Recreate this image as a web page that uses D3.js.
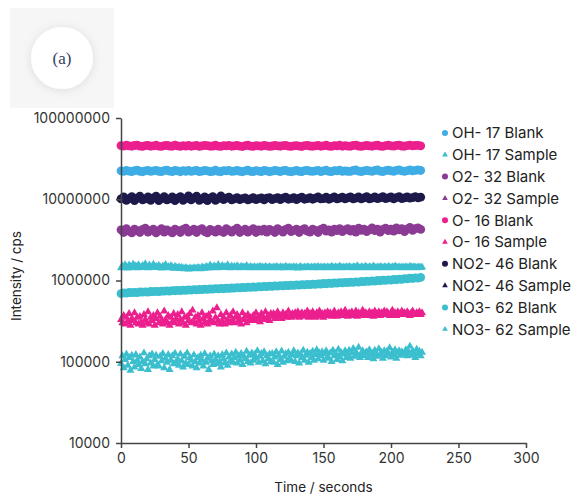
<!DOCTYPE html>
<html>
<head>
<meta charset="utf-8">
<script src="https://cdn.jsdelivr.net/npm/d3@7"></script>
<style>
    body { margin: 0; background: #fff; }
    svg { display: block; }
    .axis text { font-family: Inter, "Open Sans", sans-serif; font-size: 14px; fill: #333; }
    .axis path, .axis line { stroke: #444; stroke-width: 1.5px; }
    .label { font-family: Inter, "Open Sans", sans-serif; font-size: 13.5px; fill: #222; }
    .legend text { font-family: Inter, "Open Sans", sans-serif; font-size: 15px; fill: #222; }
</style>
</head>
<body>
<div id="chart"></div>
<script>
// Blanks sampled every 2 s, samples every 1 s; values in thousands of cps
var blankStep = 2;
var sampleStep = 1;
var unit = 1000;

var yTicks = [10000, 100000, 1000000, 10000000, 100000000];
var xTicks = [0, 50, 100, 150, 200, 250, 300];

var ohBlank = [
    22400,22000,22700,22200,21900,22500,22800,22100,21800,22400,22600,22000,22300,22700,
    22100,21900,22500,22800,22200,21900,22600,22300,21800,22500,22100,22700,22000,22400,
    22600,21900,22200,22700,22400,21900,22100,22800,22000,21800,22500,22300,22700,22000,
    22200,22600,22100,21800,22400,22800,22000,21900,22500,22200,21900,22700,22400,21800,
    22200,22600,22300,21900,22500,22700,22000,21800,22200,22600,22100,21900,22500,22700,
    22200,22000,22400,22700,21900,22300,22800,22000,21900,22500,22300,22800,22000,22400,
    22100,22000,22600,22900,22200,21900,22400,22700,22300,22000,22600,22900,22200,21900,
    22500,22800,22400,22100,22600,22900,22300,22000,22500,22900,22400,22700,22900,22600
];
var ohSample = [
    95,118,84,106,124,90,112,78,120,100,86,122,104,92,
    114,82,100,128,94,108,80,118,96,124,88,106,120,92,
    88,116,102,126,84,110,98,122,80,104,118,94,127,98,
    108,90,124,102,86,116,96,128,92,112,104,88,121,100,
    84,112,96,120,104,88,126,98,110,80,118,102,92,124,
    106,94,118,100,86,122,108,96,128,90,114,102,124,98,
    112,130,96,118,104,126,92,116,108,134,100,120,96,128,
    104,122,110,136,98,116,126,102,132,94,118,108,124,100,
    126,98,114,132,92,120,106,135,98,116,125,102,130,110,
    104,122,136,100,118,128,96,124,112,138,104,120,130,98,
    126,112,134,104,122,140,108,128,118,132,104,125,136,115,
    110,128,100,138,118,126,106,142,114,130,102,124,136,112,
    120,138,110,128,145,116,132,122,150,112,126,136,118,128,
    132,112,140,120,126,108,138,124,116,144,122,130,110,136,
    118,134,126,148,114,130,122,140,110,128,136,120,132,124,
    126,140,118,132,155,120,136,128,112,142,124,134,118,130
];
var o2Blank = [
    4200,3900,4350,4050,3850,4300,4100,3900,4250,4400,3950,4150,4300,3850,
    4100,4350,3950,4200,4050,3850,4300,4150,3900,4250,4400,3950,4100,4300,
    3900,4200,4350,4000,3850,4250,4100,3950,4300,4050,3900,4350,4150,3950,
    4200,4400,3900,4100,4300,3950,4150,4350,3900,4200,4050,4300,3950,4250,
    4100,3900,4350,4150,3950,4250,4400,4000,4150,4300,3900,4200,4350,4050,
    3950,4300,4150,3900,4250,4400,4050,4200,3950,4300,4100,4350,4000,4200,
    4350,4050,4250,3950,4400,4150,4300,4000,4200,4450,4100,4300,3950,4250,
    4400,4100,4300,4050,4450,4200,4350,4000,4300,4500,4150,4350,4450,4250
];
var o2Sample = [];
var oBlank = [
    45800,45100,46200,45300,44900,45900,46300,45100,44800,45600,46100,44900,45400,46200,
    45000,44700,45700,46000,45200,44900,46300,45300,44800,45800,45100,46100,44900,45500,
    45900,44800,45300,46000,45600,44900,45200,46200,45000,44700,45700,45400,46100,44900,
    45300,45900,45100,44600,45600,46200,45000,44800,45800,45300,44900,46000,45500,44700,
    45200,45900,45400,44900,45600,46100,45000,44800,45300,45800,45100,44600,45700,46000,
    45200,44900,45500,45900,44900,45300,46200,45000,44700,45700,45400,46200,44900,45600,
    45100,44900,45900,46300,45200,44800,45500,46000,45300,44900,45800,46400,45100,44700,
    45700,46200,45400,45000,45900,46300,45200,44900,45600,46400,45300,45900,46100,45500
];
var oSample = [
    330,300,370,290,350,310,390,280,340,320,400,300,350,290,
    360,310,280,380,330,300,410,290,350,320,370,280,340,400,
    300,360,320,290,420,330,300,370,280,350,310,390,300,340,
    380,290,330,410,300,350,280,360,320,390,300,430,310,350,
    290,370,320,280,400,340,300,360,290,380,330,310,420,300,
    350,460,320,290,380,310,350,290,400,330,300,370,320,410,
    300,350,380,310,340,290,400,330,360,300,380,320,350,340,
    370,320,400,340,360,310,390,350,330,410,340,370,320,390,
    360,390,340,380,410,350,370,340,400,360,380,350,420,370,
    350,390,370,400,360,410,350,380,400,360,390,370,420,350,
    390,360,410,380,350,400,370,420,360,390,350,400,380,410,
    370,400,360,390,420,380,360,400,380,410,370,390,430,380,
    360,400,380,410,370,390,420,360,400,380,390,430,370,400,
    390,370,410,380,400,360,420,390,380,410,370,400,390,420,
    380,410,390,370,400,430,380,400,370,410,390,380,420,390,
    400,380,410,390,370,400,420,390,380,400,390,410,380,400
];
var no2Blank = [
    10100,10700,9700,10200,10800,9600,10300,10900,9800,10100,10700,9700,10400,10900,
    9600,10200,10800,9800,10100,10700,9600,10300,10800,9700,10200,11000,9800,10400,
    10900,9700,10100,10700,9600,10300,10800,9700,10200,11000,9900,10300,10600,9800,
    10100,10500,9900,10200,10400,9800,10100,10500,9900,10200,10400,9800,10300,10500,
    9900,10200,10500,9900,10300,10600,10000,10200,10500,9900,10300,10600,10000,10200,
    10500,10000,10300,10700,10100,10200,10600,10000,10300,10700,10100,10300,10600,10100,
    10400,10700,10100,10300,10700,10100,10400,10800,10100,10300,10700,10200,10400,10800,
    10200,10400,10700,10100,10500,10800,10200,10400,10700,10300,10500,10800,10400,10600
];
var no2Sample = [];
var no3Blank = [
    690,705,700,712,708,715,710,722,718,725,720,732,728,735,
    731,742,738,746,741,752,748,756,751,762,758,765,760,771,
    767,775,770,782,778,786,781,793,788,797,792,803,799,808,
    804,815,810,820,815,828,823,832,827,840,835,845,840,852,
    847,858,853,864,859,870,865,878,872,884,878,890,885,896,
    891,904,898,910,905,918,912,925,919,932,926,940,934,948,
    942,956,950,963,957,972,966,980,974,990,984,1000,993,1010,
    1003,1020,1012,1030,1022,1042,1034,1055,1046,1068,1058,1080,1072,1095
];
var no3Sample = [
    1430,1500,1450,1560,1470,1420,1540,1480,1440,1590,1460,1510,1430,1560,
    1470,1440,1520,1450,1600,1460,1430,1550,1470,1440,1580,1450,1490,1440,
    1530,1460,1420,1500,1450,1570,1440,1480,1430,1520,1460,1410,1490,1440,
    1420,1460,1400,1450,1410,1390,1440,1400,1380,1420,1400,1390,1430,1410,
    1400,1440,1420,1390,1460,1430,1410,1480,1450,1420,1540,1460,1440,1510,
    1460,1430,1570,1470,1440,1520,1450,1480,1440,1560,1460,1430,1500,1450,
    1480,1440,1510,1460,1430,1490,1450,1470,1440,1520,1460,1430,1480,1450,
    1440,1470,1430,1460,1450,1490,1440,1460,1430,1480,1450,1440,1470,1450,
    1430,1460,1440,1480,1450,1430,1470,1440,1460,1430,1490,1450,1440,1460,
    1450,1430,1470,1440,1460,1420,1450,1480,1440,1430,1460,1440,1470,1450,
    1440,1460,1430,1470,1450,1440,1480,1430,1460,1450,1440,1470,1430,1460,
    1450,1440,1490,1460,1430,1470,1450,1440,1500,1460,1430,1460,1440,1470,
    1440,1480,1450,1430,1470,1460,1440,1510,1450,1430,1470,1450,1440,1490,
    1460,1430,1470,1450,1440,1500,1460,1430,1460,1440,1480,1450,1430,1470,
    1450,1440,1480,1460,1430,1470,1440,1500,1450,1440,1470,1430,1460,1450,
    1440,1470,1450,1430,1490,1460,1440,1470,1450,1430,1460,1450,1440,1460
];

var series = [
    { name: 'OH- 17 Blank', values: ohBlank, step: blankStep, color: '#3fade5', shape: 'circle' },
    { name: 'OH- 17 Sample', values: ohSample, step: sampleStep, color: '#3bbfcf', shape: 'triangle' },
    { name: 'O2- 32 Blank', values: o2Blank, step: blankStep, color: '#8b3b94', shape: 'circle' },
    { name: 'O2- 32 Sample', values: o2Sample, step: sampleStep, color: '#8b3b94', shape: 'triangle' },
    { name: 'O- 16 Blank', values: oBlank, step: blankStep, color: '#ec1f8e', shape: 'circle' },
    { name: 'O- 16 Sample', values: oSample, step: sampleStep, color: '#ec1f8e', shape: 'triangle' },
    { name: 'NO2- 46 Blank', values: no2Blank, step: blankStep, color: '#1d1a4b', shape: 'circle' },
    { name: 'NO2- 46 Sample', values: no2Sample, step: sampleStep, color: '#1d1a4b', shape: 'triangle' },
    { name: 'NO3- 62 Blank', values: no3Blank, step: blankStep, color: '#3bbfcf', shape: 'circle' },
    { name: 'NO3- 62 Sample', values: no3Sample, step: sampleStep, color: '#3bbfcf', shape: 'triangle' }
];

var width = 579, height = 495;
var margin = { top: 118, right: 53, bottom: 52, left: 121 };

var svg = d3.select('#chart').append('svg')
    .attr('width', width)
    .attr('height', height);

// panel badge
var defs = svg.append('defs');
var shadow = defs.append('filter').attr('id', 'soft')
    .attr('x', '-50%').attr('y', '-50%').attr('width', '200%').attr('height', '200%');
shadow.append('feDropShadow')
    .attr('dx', 0).attr('dy', 1).attr('stdDeviation', 5)
    .attr('flood-color', '#000').attr('flood-opacity', 0.1);

svg.append('rect')
    .attr('x', 10).attr('y', 8).attr('width', 104).attr('height', 100)
    .attr('fill', '#f6f6f6');
svg.append('circle')
    .attr('cx', 62).attr('cy', 58).attr('r', 31)
    .attr('fill', '#fff')
    .attr('filter', 'url(#soft)');
svg.append('text')
    .attr('x', 62).attr('y', 64)
    .attr('text-anchor', 'middle')
    .style('font-family', '"Liberation Serif", "DejaVu Serif", serif')
    .style('font-size', '17px')
    .style('fill', '#34405f')
    .text('(a)');

var x = d3.scaleLinear().domain([0, 300]).range([margin.left, width - margin.right]);
var y = d3.scaleLog().domain([10000, 100000000]).range([height - margin.bottom, margin.top]);

var plot = svg.append('g');
var triangle = d3.symbol().type(d3.symbolTriangle).size(28);

series.forEach(function (s) {
    var g = plot.append('g').attr('fill', s.color);
    var pts = s.values.map(function (v, i) {
        return { t: i * s.step, v: v * unit };
    });
    if (s.shape === 'circle') {
        g.selectAll('circle')
            .data(pts)
            .enter().append('circle')
                .attr('cx', function (d) { return x(d.t); })
                .attr('cy', function (d) { return y(d.v); })
                .attr('r', 4.4);
    } else {
        g.selectAll('path')
            .data(pts)
            .enter().append('path')
                .attr('d', triangle)
                .attr('transform', function (d) {
                    return 'translate(' + x(d.t) + ',' + y(d.v) + ')';
                });
    }
});

svg.append('g').attr('class', 'axis')
    .attr('transform', 'translate(0,' + (height - margin.bottom) + ')')
    .call(d3.axisBottom(x).tickValues(xTicks).tickSize(5).tickPadding(5).tickSizeOuter(0));
var yAxis = svg.append('g').attr('class', 'axis')
    .attr('transform', 'translate(' + margin.left + ',0)')
    .call(d3.axisLeft(y).tickValues(yTicks).tickFormat(d3.format('d')).tickSize(5).tickPadding(6).tickSizeOuter(0));
yAxis.select('.domain').attr('stroke', '#666');

svg.append('text').attr('class', 'label')
    .attr('x', (x(0) + x(300)) / 2)
    .attr('y', 492)
    .attr('text-anchor', 'middle')
    .text('Time / seconds');
svg.append('text').attr('class', 'label')
    .attr('transform', 'translate(21,276) rotate(-90)')
    .attr('text-anchor', 'middle')
    .text('Intensity / cps');

// legend
var legend = svg.append('g').attr('class', 'legend')
    .attr('transform', 'translate(445,133)');
var row = legend.selectAll('g')
    .data(series)
    .enter().append('g')
        .attr('transform', function (d, i) { return 'translate(0,' + (i * 21.8) + ')'; });
row.each(function (d) {
    var g = d3.select(this);
    if (d.shape === 'circle') {
        g.append('circle').attr('r', 3).attr('fill', d.color);
    } else {
        g.append('path')
            .attr('d', d3.symbol().type(d3.symbolTriangle).size(14))
            .attr('fill', d.color);
    }
});
row.append('text')
    .attr('x', 7)
    .attr('dy', '0.36em')
    .text(function (d) { return d.name; });
</script>
</body>
</html>
